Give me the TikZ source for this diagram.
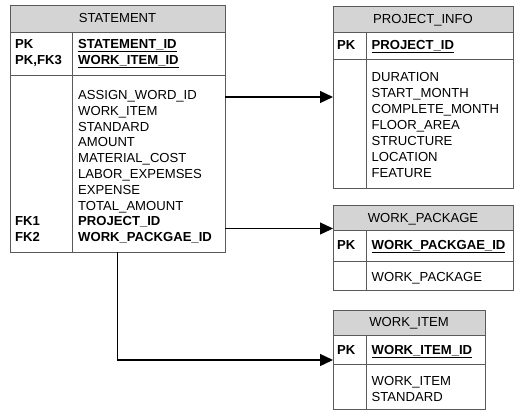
\documentclass[tikz,border=0pt]{standalone}
\usepackage{fontspec}
\setmainfont{Liberation Sans}
\usetikzlibrary{arrows.meta}
\definecolor{bordc}{HTML}{5A5A5A}
\definecolor{hdrc}{HTML}{D4D4D4}
\tikzset{
  tbl/.style={draw=bordc, line width=0.9pt, anchor=north west, inner sep=0pt, outer sep=0pt},
  hdr/.style={tbl, fill=hdrc},
  sep/.style={draw=bordc, line width=0.9pt},
  txt/.style={anchor=base west, inner sep=0pt, font=\fontsize{13.1}{15.8}\selectfont},
  htxt/.style={anchor=base, inner sep=0pt, font=\fontsize{13.1}{15.8}\selectfont},
  keyt/.style={txt, font=\fontsize{13.1}{15.8}\selectfont\bfseries},
  conn/.style={line width=1.3pt, -{Triangle[length=13pt,width=12pt]}},
}
\newcommand{\ul}[1]{\underline{#1}}
\begin{document}
\begin{tikzpicture}[x=1pt,y=-1pt]
\useasboundingbox (0,0) rectangle (518,412);
% ---------- STATEMENT ----------
\node[hdr, minimum width=215pt, minimum height=27pt] (sth) at (10,5) {};
\node[tbl, minimum width=215pt, minimum height=220pt] (st) at (10,32) {};
\draw[sep] (10,75) -- (225,75);
\draw[sep] (72,32) -- (72,252);
\node[htxt] (sthT) at (117.5,22.5) {STATEMENT};
\node[keyt] (stk1) at (15,48.7) {PK};
\node[keyt] (stk2) at (15,64.7) {PK,FK3};
\node[keyt] (stf1) at (78,48.7) {\ul{STATEMENT\_ID}};
\node[keyt] (stf2) at (78,64.7) {\ul{WORK\_ITEM\_ID}};
\foreach \t [count=\i from 0] in {ASSIGN\_WORD\_ID,WORK\_ITEM,STANDARD,AMOUNT,MATERIAL\_COST,LABOR\_EXPEMSES,EXPENSE,TOTAL\_AMOUNT}
  \node[txt] (sta\i) at (78,99.5+15.8*\i) {\t};
\node[keyt] (stk3) at (15,225.9) {FK1};
\node[keyt] (stk4) at (15,241.7) {FK2};
\node[keyt] (stb1) at (78,225.9) {PROJECT\_ID};
\node[keyt] (stb2) at (78,241.7) {WORK\_PACKGAE\_ID};
% ---------- PROJECT_INFO ----------
\node[hdr, minimum width=180pt, minimum height=26pt] (pih) at (333,6) {};
\node[tbl, minimum width=180pt, minimum height=156pt] (pi) at (333,32) {};
\draw[sep] (333,59) -- (513,59);
\draw[sep] (366,32) -- (366,188);
\node[htxt] (piT) at (423,23.5) {PROJECT\_INFO};
\node[keyt] (pik) at (337,49.5) {PK};
\node[keyt] (pif) at (371.5,49.5) {\ul{PROJECT\_ID}};
\foreach \t [count=\i from 0] in {DURATION,START\_MONTH,COMPLETE\_MONTH,FLOOR\_AREA,STRUCTURE,LOCATION,FEATURE}
  \node[txt] (pia\i) at (371.5,81.5+16*\i) {\t};
% ---------- WORK_PACKAGE ----------
\node[hdr, minimum width=180pt, minimum height=25.5pt] (wph) at (333,205) {};
\node[tbl, minimum width=180pt, minimum height=59.5pt] (wp) at (333,230.5) {};
\draw[sep] (333,261) -- (513,261);
\draw[sep] (366,230.5) -- (366,290);
\node[htxt] (wpT) at (423,222.5) {WORK\_PACKAGE};
\node[keyt] (wpk) at (337,249.5) {PK};
\node[keyt] (wpf) at (371.5,249.5) {\ul{WORK\_PACKGAE\_ID}};
\node[txt] (wpa) at (371.5,281.5) {WORK\_PACKAGE};
% ---------- WORK_ITEM ----------
\node[hdr, minimum width=152pt, minimum height=25.5pt] (wih) at (333,310) {};
\node[tbl, minimum width=152pt, minimum height=73.5pt] (wi) at (333,335.5) {};
\draw[sep] (333,364) -- (485,364);
\draw[sep] (366,335.5) -- (366,409);
\node[htxt] (wiT) at (409,326.5) {WORK\_ITEM};
\node[keyt] (wik) at (337,354.5) {PK};
\node[keyt] (wif) at (371.5,354.5) {\ul{WORK\_ITEM\_ID}};
\node[txt] (wia0) at (371.5,385.2) {WORK\_ITEM};
\node[txt] (wia1) at (371.5,401.2) {STANDARD};
% ---------- connectors ----------
\draw[conn] (st.east |- 0,97) -- (pi.west |- 0,97);
\draw[conn] (st.east |- 0,228.5) -- (wp.west |- 0,228.5);
\draw[conn] (st.south -| 117.3,0) |- (wi.west |- 0,360);
\end{tikzpicture}
\end{document}
